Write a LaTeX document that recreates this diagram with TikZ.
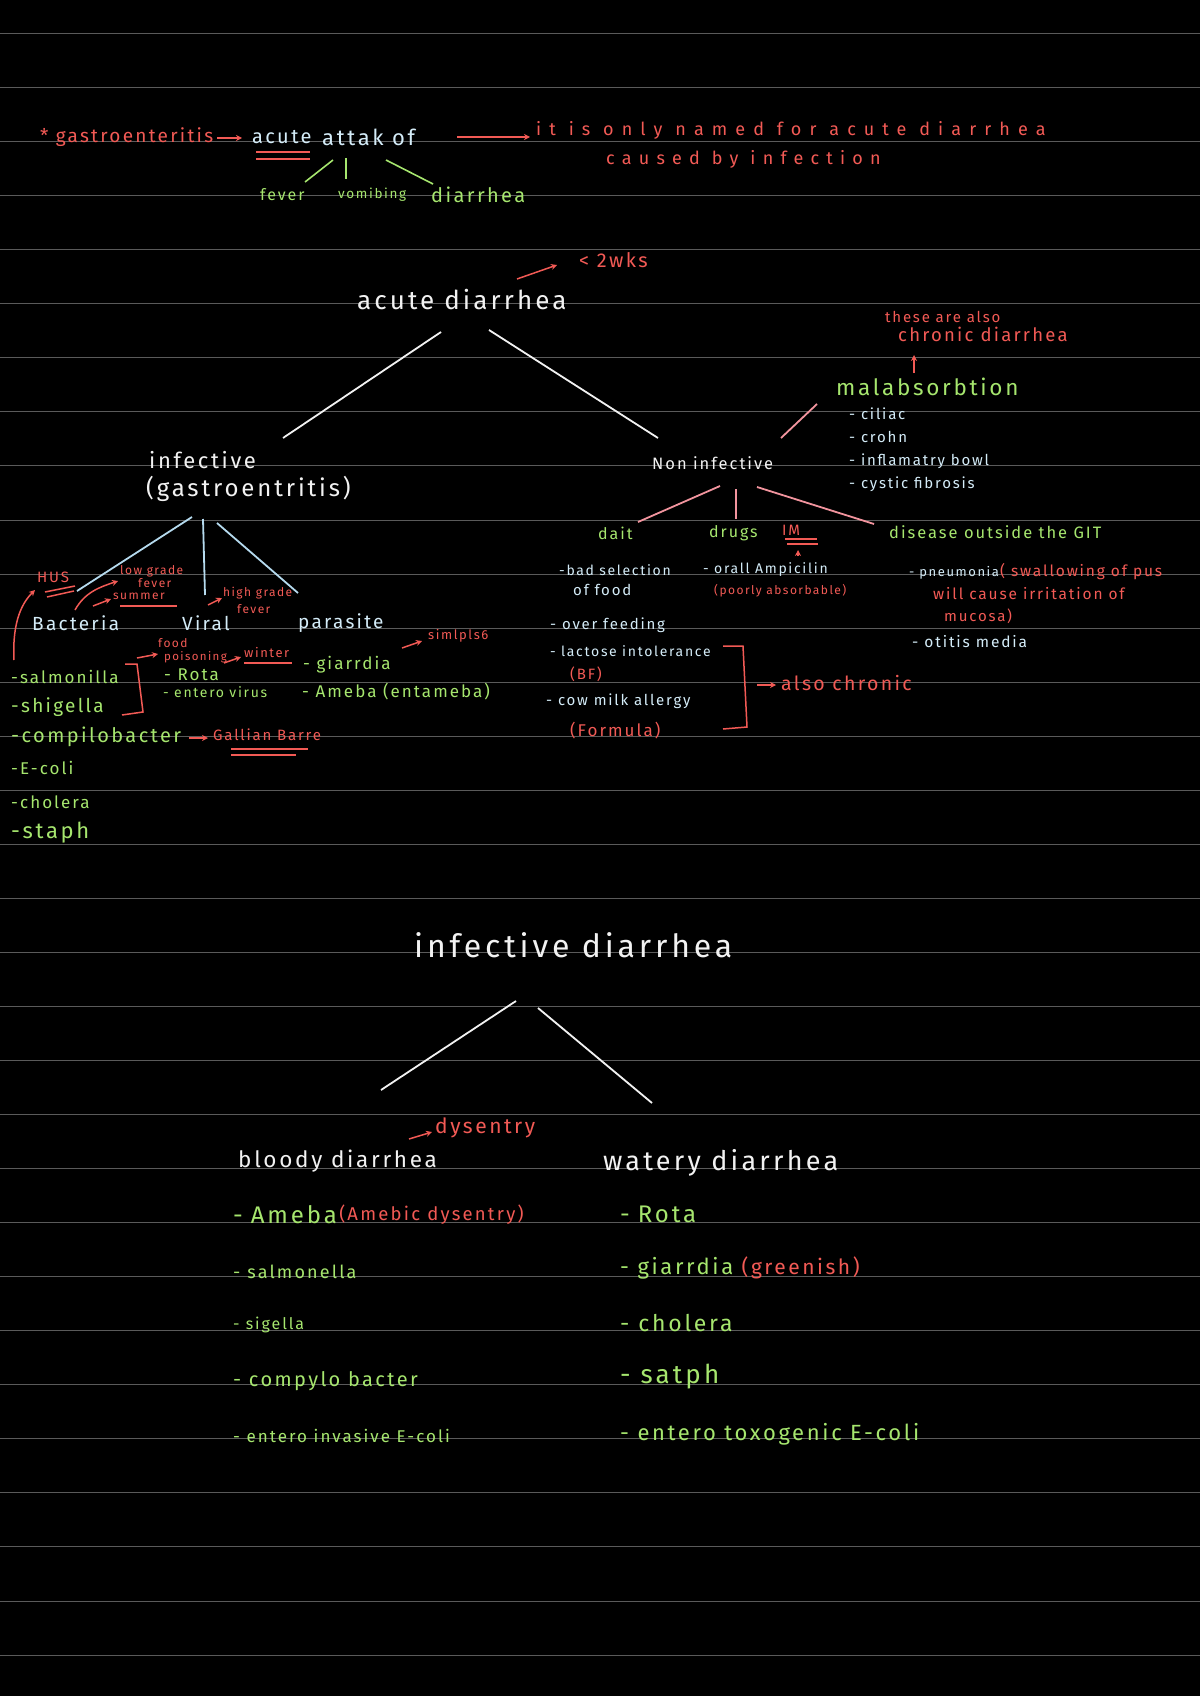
\documentclass[tikz,border=0pt]{standalone}
\usepackage{fontspec}
\setmainfont{Fira Sans}[LetterSpace=12]
\usetikzlibrary{arrows.meta,positioning}

\definecolor{wht}{HTML}{F2F2F2}
\definecolor{lbl}{HTML}{D4ECF8}
\definecolor{grn}{HTML}{A6E66E}
\definecolor{rd}{HTML}{F25A55}
\definecolor{pnk}{HTML}{F2949E}
\definecolor{lbln}{HTML}{B5DAEE}
\definecolor{rulegray}{HTML}{5A5A5A}

\begin{document}
\begin{tikzpicture}[
        x=1pt, y=-1pt,
        note/.style={anchor=west, inner sep=0pt},
        wt/.style={note, text=wht},
        bt/.style={note, text=lbl},
        gt/.style={note, text=grn},
        rt/.style={note, text=rd},
        fs/.style={font=\fontsize{#1}{#1}\selectfont},
        wide/.style={font=\fontsize{18}{18}\selectfont\addfontfeature{LetterSpace=#1}},
        wline/.style={draw=wht, line width=1.8pt},
        bline/.style={draw=lbln, line width=1.8pt},
        pline/.style={draw=pnk, line width=1.8pt},
        gline/.style={draw=grn, line width=1.6pt},
        rline/.style={draw=rd, line width=1.5pt},
        rarrow/.style={rline, -{Stealth[length=6pt,width=6pt]}},
        myrule/.style={draw=rulegray, line width=0.9pt}
    ]
    \fill[black] (0,0) rectangle (1200,1696);
    \useasboundingbox (0,0) rectangle (1200,1696);
    \foreach \k in {0,...,30}
        \draw[myrule] (0,33.5+54.05*\k) -- (1200,33.5+54.05*\k);

    % gastroenteritis
    \node[rt, fs=19] (gastro) at (40,137) {* gastroenteritis};
    \node[bt, fs=20] (acute) at (252,137) {acute};
    \node[bt, fs=22] (attak) at (322,137) {attak of};
    \node[gt, fs=16] (fever) at (260,195) {fever};
    \node[gt, fs=13.5] (vom) at (338,195) {vomibing};
    \node[gt, fs=20] (dia) at (431,195) {diarrhea};
    \node[rt, wide=45] (only) at (536,130) {it is only named for acute diarrhea};
    \node[rt, wide=40] (cause) at (606,159) {caused by infection};

    \draw[rarrow] ([shift={(177,1)}]gastro.west) -- ([shift={(-10,1)}]acute.west);
    \draw[rline] ([shift={(4,15)}]acute.west) -- ([shift={(58,15)}]acute.west);
    \draw[rline] ([shift={(4,22)}]acute.west) -- ([shift={(58,22)}]acute.west);
    \draw[gline] ([shift={(11,23)}]attak.west) -- ([shift={(45,-13)}]fever.west);
    \draw[gline] ([shift={(24,21)}]attak.west) -- ([shift={(8,-16)}]vom.west);
    \draw[gline] ([shift={(64,23)}]attak.west) -- ([shift={(2,-11)}]dia.west);
    \draw[rarrow] ([shift={(135,0)}]attak.west) -- ([shift={(-6,7)}]only.west);

    % acute diarrhea
    \node[wt, fs=26] (ad) at (357,300) {acute diarrhea};
    \node[rt, fs=20] (wks) at (579,260) {< 2wks};
    \draw[rarrow] ([shift={(160,-21)}]ad.west) -- ([shift={(-22,5)}]wks.west);

    \node[wt, fs=22] (inf) at (149,460) {infective};
    \node[wt, fs=24] (gas) at (146,489) {(gastroentritis)};
    \node[wt, fs=16.5] (ni) at (652,463) {Non infective};
    \draw[wline] ([shift={(84,32)}]ad.west) -- ([shift={(134,-22)}]inf.west);
    \draw[wline] ([shift={(132,30)}]ad.west) -- ([shift={(6,-25)}]ni.west);

    % malabsorbtion
    \node[gt, fs=22.5] (ma) at (836,387) {malabsorbtion};
    \foreach \n/\y/\t in {% name/y/text
        mal1/414/- ciliac,
        mal2/437/- crohn,
        mal3/461/- inflamatry bowl,
        mal4/484/- cystic fibrosis}
        \node[bt, fs=15] (\n) at (849,\y) {\t};
    \node[rt, fs=15] (chr1) at (885,317) {these are also};
    \node[rt, fs=18.5] (chr2) at (898,334) {chronic diarrhea};
    \draw[pline] ([shift={(-19,17)}]ma.west) -- ([shift={(129,-25)}]ni.west);
    \draw[rarrow] ([shift={(78,-14)}]ma.west) -- ([shift={(16,21)}]chr2.west);

    % non infective
    \node[gt, fs=16] (dait) at (598,533) {dait};
    \node[gt, fs=16] (drugs) at (709,533) {drugs};
    \node[rt, fs=15] (im) at (782,530) {IM};
    \node[gt, fs=16.5] (dis) at (889,532) {disease outside the GIT};
    \draw[pline] ([shift={(68,23)}]ni.west) -- ([shift={(40,-11)}]dait.west);
    \draw[pline] ([shift={(84,26)}]ni.west) -- ([shift={(27,-14)}]drugs.west);
    \draw[pline] ([shift={(105,24)}]ni.west) -- ([shift={(-15,-8)}]dis.west);
    \draw[rline] ([shift={(3,9)}]im.west) -- ([shift={(35,9)}]im.west);
    \draw[rline] ([shift={(5,14)}]im.west) -- ([shift={(36,14)}]im.west);

    \node[bt, fs=14] (sel1) at (559,570) {-bad selection};
    \node[bt, fs=15] (sel2) at (573,590) {of food};
    \node[bt, fs=14] (amp) at (703,570) {- orall Ampicilin};
    \node[rt, fs=12] (poor) at (714,591) {(poorly absorbable)};
    \draw[rarrow] ([shift={(95,-14)}]amp.west) -- ([shift={(16,20)}]im.west);
    \node[bt, fs=15] (over) at (550,625) {- over feeding};
    \node[bt, fs=14] (lact) at (550,651) {- lactose intolerance};
    \node[rt, fs=15] (bf) at (570,674) {(BF)};
    \node[bt, fs=15] (cow) at (546,701) {- cow milk allergy};
    \node[rt, fs=17] (form) at (570,731) {(Formula)};
    \draw[rline] (723,646) -- (743,646) -- (747,727) -- (723,729);
    \node[rt, fs=19.5] (alsoch) at (781,683) {also chronic};
    \draw[rarrow] ([shift={(-24,2)}]alsoch.west) -- ++(19,0);

    \node[bt, fs=13] (pneu) at (909,573) {- pneumonia};
    \node[rt, fs=15.5] (sw1) at (1000,572) {( swallowing of pus};
    \node[rt, fs=15.5] (sw2) at (933,594) {will cause irritation of};
    \node[rt, fs=15] (sw3) at (944,616) {mucosa)};
    \node[bt, fs=15.5] (otitis) at (912,642) {- otitis media};

    % infective
    \node[bt, fs=19] (bac) at (32,623) {Bacteria};
    \node[bt, fs=19] (vir) at (182,623) {Viral};
    \node[bt, fs=19] (par) at (298,623) {parasite};
    \draw[bline] ([shift={(46,28)}]gas.west) -- ([shift={(45,-32)}]bac.west);
    \draw[bline] ([shift={(57,30)}]gas.west) -- ([shift={(23,-28)}]vir.west);
    \draw[bline] ([shift={(71,34)}]gas.west) -- ([shift={(0,-30)}]par.west);

    \foreach \n/\y/\t/\s in {% name/y/text/size
        sal/677/-salmonilla/17,
        shi/707/-shigella/19,
        comp/737/-compilobacter/20,
        ecoli/768/-E-coli/17,
        chol/802/-cholera/17,
        staph/833/-staph/22}
        \node[gt, fs=\s] (\n) at (11,\y) {\t};
    \draw[rline] (125,664) -- (137,664) -- (143,712) -- (122,715);

    \node[rt, fs=15] (hus) at (37,577) {HUS};
    \draw[rline] ([shift={(8,15)}]hus.west) -- ([shift={(38,9)}]hus.west);
    \draw[rline] ([shift={(10,20)}]hus.west) -- ([shift={(37,14)}]hus.west);
    \draw[rarrow] ([shift={(3,-17)}]sal.west) .. controls +(-2,-40) and +(-12,12) .. ([shift={(-2,13)}]hus.west);

    \node[rt, fs=12] (low) at (120,571) {low grade};
    \node[rt, fs=12] (fev1) at (138,583) {fever};
    \node[rt, fs=12] (sum) at (113,596) {summer};
    \draw[rarrow] ([shift={(-45,39)}]low.west) .. controls +(10,-18) and +(-18,6) .. ([shift={(-2,10)}]low.west);
    \draw[rarrow] ([shift={(-20,10)}]sum.west) -- ([shift={(-2,3)}]sum.west);
    \draw[rline] ([shift={(7,10)}]sum.west) -- ([shift={(64,10)}]sum.west);

    \node[rt, fs=12] (hg1) at (223,593) {high grade};
    \node[rt, fs=12] (hg2) at (237,609) {fever};
    \draw[rarrow] ([shift={(-15,12)}]hg1.west) -- ([shift={(-1,5)}]hg1.west);

    \node[rt, fs=12] (fd1) at (158,643) {food};
    \node[rt, fs=11.5] (fd2) at (164,657) {poisoning};
    \draw[rarrow] ([shift={(-27,1)}]fd2.west) -- ([shift={(-6,-3)}]fd2.west);
    \node[rt, fs=13] (win) at (244,653) {winter};
    \draw[rarrow] ([shift={(60,6)}]fd2.west) -- ([shift={(-3,4)}]win.west);
    \draw[rline] ([shift={(0,10)}]win.west) -- ([shift={(48,10)}]win.west);

    \node[gt, fs=17] (rota) at (164,675) {- Rota};
    \node[gt, fs=14] (ev) at (163,692) {- entero virus};
    \node[gt, fs=17] (gia) at (303,665) {- giarrdia};
    \node[gt, fs=17] (ame) at (302,692) {- Ameba (entameba)};
    \node[rt, fs=13] (sim) at (428,636) {simlpls6};
    \draw[rarrow] ([shift={(-26,12)}]sim.west) -- ([shift={(-6,5)}]sim.west);

    \node[rt, fs=15] (gb) at (213,735) {Gallian Barre};
    \draw[rarrow] ([shift={(-24,3)}]gb.west) -- ([shift={(-5,3)}]gb.west);
    \draw[rline] ([shift={(18,14)}]gb.west) -- ([shift={(95,14)}]gb.west);
    \draw[rline] ([shift={(18,20)}]gb.west) -- ([shift={(83,20)}]gb.west);

    % infective diarrhea
    \node[wt, fs=32] (id) at (414,945) {infective diarrhea};
    \node[wt, fs=22.5] (bl) at (238,1161) {bloody diarrhea};
    \node[wt, fs=27] (wa) at (603,1163) {watery diarrhea};
    \draw[wline] ([shift={(102,56)}]id.west) -- ([shift={(143,-71)}]bl.west);
    \draw[wline] ([shift={(124,63)}]id.west) -- ([shift={(49,-60)}]wa.west);
    \node[rt, fs=21] (dys) at (435,1128) {dysentry};
    \draw[rarrow] ([shift={(-26,11)}]dys.west) -- ([shift={(-3,4)}]dys.west);

    \foreach \n/\y/\t/\s in {% name/y/text/size
        bl1/1215/-\hspace{8pt}Ameba/24,
        bl2/1272/- salmonella/18,
        bl3/1325/- sigella/16,
        bl4/1381/- compylo bacter/20,
        bl5/1436/- entero invasive E-coli/17}
        \node[gt, fs=\s] (\n) at (233,\y) {\t};
    \node[rt, fs=18.5, right=2pt of bl1] (amebic) {(Amebic dysentry)};

    \foreach \n/\y/\t/\s in {% name/y/text/size
        wa1/1214/-\hspace{8pt}Rota/24,
        wa2/1268/- giarrdia/22,
        wa3/1323/- cholera/23,
        wa4/1377/- satph/26,
        wa5/1434/- entero toxogenic E-coli/22}
        \node[gt, fs=\s] (\n) at (620,\y) {\t};
    \node[rt, fs=21, right=8pt of wa2] (green) {(greenish)};
\end{tikzpicture}
\end{document}
